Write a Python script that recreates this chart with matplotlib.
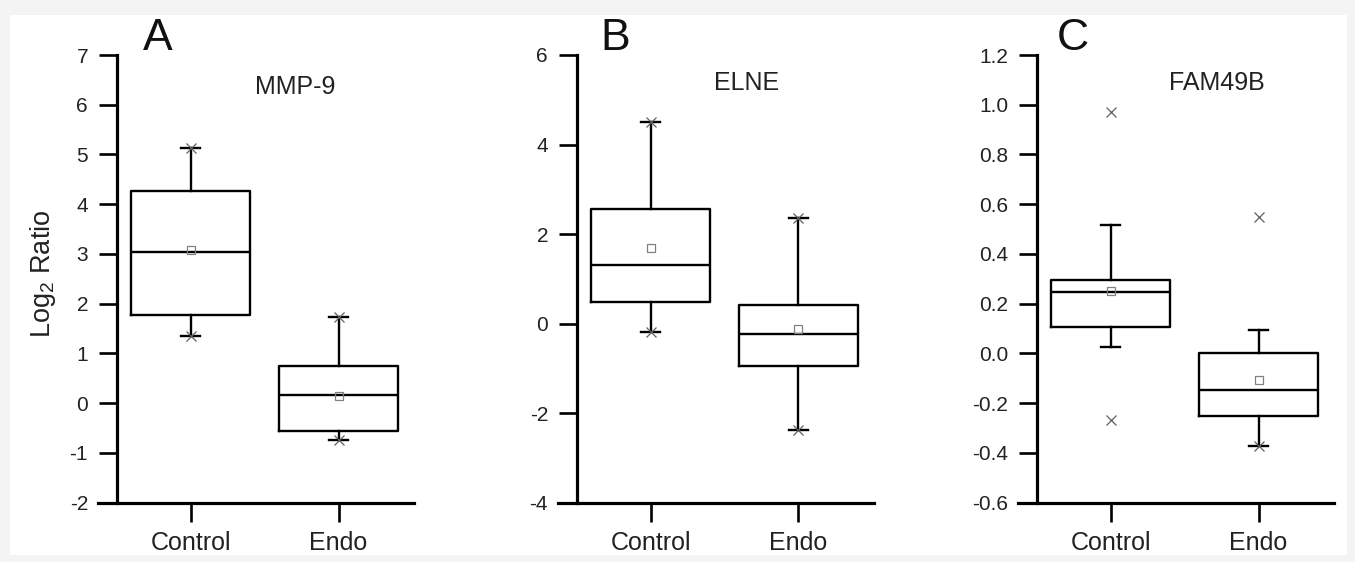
import matplotlib
matplotlib.use("Agg")
import matplotlib.pyplot as plt
from matplotlib.patches import Rectangle

plt.rcParams['font.family'] = ['Liberation Sans', 'DejaVu Sans']

# ---- data ----
categories = ["Control", "Endo"]
genes = ["MMP-9", "ELNE", "FAM49B"]
panel_letters = ["A", "B", "C"]

# per panel: [Control, Endo]
q1_vals = [[1.77, -0.56], [0.49, -0.95], [0.108, -0.252]]
med_vals = [[3.03, 0.16], [1.31, -0.23], [0.248, -0.146]]
q3_vals = [[4.26, 0.75], [2.56, 0.42], [0.296, 0.0]]
whislo_vals = [[1.35, -0.74], [-0.19, -2.37], [0.027, -0.372]]
whishi_vals = [[5.14, 1.73], [4.50, 2.36], [0.518, 0.094]]
mean_vals = [[3.09, 0.15], [1.68, -0.13], [0.25, -0.108]]
min_vals = [[1.35, -0.74], [-0.19, -2.37], [-0.267, -0.372]]
max_vals = [[5.14, 1.73], [4.50, 2.36], [0.972, 0.547]]

ylims = [(-2, 7), (-4, 6), (-0.6, 1.2)]
yticks = [[-2, -1, 0, 1, 2, 3, 4, 5, 6, 7],
          [-4, -2, 0, 2, 4, 6],
          [-0.6, -0.4, -0.2, 0.0, 0.2, 0.4, 0.6, 0.8, 1.0, 1.2]]
ytick_labels = [[str(v) for v in yticks[0]],
                [str(v) for v in yticks[1]],
                ["%.1f" % v for v in yticks[2]]]

# ---- figure ----
W, H = 1355, 562
fig = plt.figure(figsize=(W / 100, H / 100), dpi=100)
fig.patch.set_facecolor('#f4f4f4')
bg = Rectangle((10 / W, 1 - 555 / H), 1337 / W, 540 / H,
               transform=fig.transFigure, facecolor='white',
               edgecolor='none', zorder=-5)
fig.add_artist(bg)

lefts = [98, 558, 1018]
ax_w = 316
top_px, bot_px = 55.0, 502.7
xl = (0.375, 0.375 + ax_w / 148.0)
letter_x = [158, 615, 1073]
title_x = [295, 747, 1217]
title_y = [87, 82.5, 82.5]

lw = 1.7
for i in range(3):
    ax = fig.add_axes([lefts[i] / W, 1 - bot_px / H, ax_w / W, (bot_px - top_px) / H])
    ax.patch.set_alpha(0)
    for s in ['top', 'right']:
        ax.spines[s].set_visible(False)
    ax.spines['left'].set_position(('data', 0.5))
    stats = []
    for j in range(2):
        stats.append(dict(med=med_vals[i][j], q1=q1_vals[i][j], q3=q3_vals[i][j],
                          whislo=whislo_vals[i][j], whishi=whishi_vals[i][j],
                          mean=mean_vals[i][j], fliers=[]))
    ax.bxp(stats, positions=[1, 2], widths=0.8, capwidths=0.13,
           showmeans=True, showfliers=False,
           boxprops=dict(color='black', lw=lw),
           whiskerprops=dict(color='black', lw=lw),
           capprops=dict(color='black', lw=lw),
           medianprops=dict(color='black', lw=lw),
           meanprops=dict(marker='s', mfc='none', mec='#808080', ms=5.5, mew=0.9))
    for j in range(2):
        ax.plot([j + 1, j + 1], [min_vals[i][j], max_vals[i][j]], ls='none',
                marker='x', color='#606060', ms=6.5, mew=0.9)
    ax.set_xlim(*xl)
    ax.set_ylim(*ylims[i])
    ax.set_xticks([1, 2])
    ax.set_xticklabels(categories)
    ax.set_yticks(yticks[i])
    ax.set_yticklabels(ytick_labels[i])
    ax.spines['left'].set_linewidth(2.3)
    ax.spines['bottom'].set_linewidth(2.3)
    ax.spines['left'].set_bounds(*ylims[i])
    ax.tick_params(axis='y', direction='out', length=13, width=1.9, pad=7.5,
                   colors='black', labelcolor='#222222', labelsize=15)
    ax.tick_params(axis='x', direction='out', length=13.5, width=1.9, pad=7,
                   colors='black', labelcolor='#222222', labelsize=18)
    fig.text(letter_x[i] / W, 1 - 39 / H, panel_letters[i], fontsize=32,
             ha='center', va='center', color='#111111')
    fig.text(title_x[i] / W, 1 - title_y[i] / H, genes[i], fontsize=18,
             ha='center', va='center', color='#222222')

fig.text(43 / W, 1 - 274 / H, r'Log$_\mathregular{2}$ Ratio', rotation=90,
         fontsize=19.5, ha='center', va='center', color='#222222')

fig.savefig('out.png', dpi=100, facecolor=fig.get_facecolor())
